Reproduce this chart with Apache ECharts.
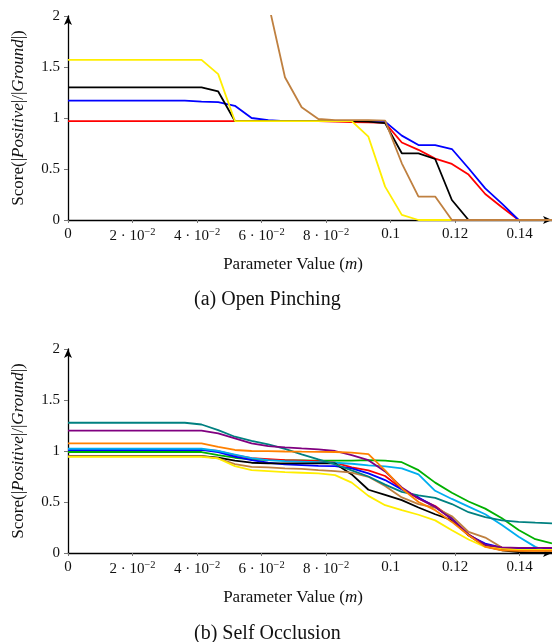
<!DOCTYPE html>
<html>
<head>
<meta charset="utf-8">
<script src="https://cdn.jsdelivr.net/npm/echarts@6/dist/echarts.min.js"></script>
<style>html,body{margin:0;padding:0;background:#fff}#c{width:552px;height:642px}</style>
</head>
<body>
<div id="c"></div>
<script>
// x sample positions (m)
var xs = [0, 0.00517, 0.01034, 0.01552, 0.02069, 0.02586, 0.03103, 0.03621, 0.04138, 0.04655,
  0.05172, 0.05690, 0.06207, 0.06724, 0.07241, 0.07759, 0.08276, 0.08793, 0.09310, 0.09828,
  0.10345, 0.10862, 0.11379, 0.11897, 0.12414, 0.12931, 0.13448, 0.13966, 0.14483, 0.15];

var xTickValues = [0, 0.02, 0.04, 0.06, 0.08, 0.1, 0.12, 0.14];
var xTickLabels = ['0', '2 · 10{sup|−2}', '4 · 10{sup|−2}', '6 · 10{sup|−2}', '8 · 10{sup|−2}', '0.1', '0.12', '0.14'];
var yTickValues = [0, 0.5, 1, 1.5, 2];
var yTickLabels = ['0', '0.5', '1', '1.5', '2'];

// (a) Open Pinching
var aRed = [0.97,0.97,0.97,0.97,0.97,0.97,0.97,0.97,0.97,0.97,0.97,0.97,0.97,0.97,0.97,0.97,0.965,0.96,0.958,0.952,0.76,0.688,0.602,0.55,0.445,0.255,0.125,0,0,0];
var aBlue = [1.17,1.17,1.17,1.17,1.17,1.17,1.17,1.17,1.16,1.155,1.12,1.0,0.98,0.97,0.97,0.97,0.97,0.97,0.97,0.965,0.827,0.735,0.735,0.696,0.507,0.31,0.16,0,0,0];
var aBlack = [1.30,1.30,1.30,1.30,1.30,1.30,1.30,1.30,1.30,1.26,0.97,0.97,0.97,0.97,0.97,0.97,0.97,0.97,0.965,0.95,0.654,0.654,0.598,0.196,0,0,0,0,0,0];
var aYellow = [1.57,1.57,1.57,1.57,1.57,1.57,1.57,1.57,1.57,1.43,0.97,0.97,0.97,0.97,0.97,0.97,0.97,0.97,0.817,0.327,0.05,0,0,0,0,0,0,0,0,0];
var aBrown = [null,null,null,null,null,null,null,null,null,null,null,null,2.13,1.40,1.105,0.99,0.98,0.98,0.98,0.975,0.556,0.23,0.23,0,0,0,0,0,0,0];

// (b) Self Occlusion
var bBlue = [1.01,1.01,1.01,1.01,1.01,1.01,1.01,1.01,1.01,0.99,0.944,0.91,0.885,0.868,0.862,0.855,0.852,0.83,0.78,0.715,0.623,0.545,0.452,0.338,0.174,0.092,0.053,0.04,0.04,0.04];
var bRed = [1.015,1.015,1.015,1.015,1.015,1.015,1.015,1.015,1.015,1.0,0.96,0.93,0.92,0.91,0.905,0.90,0.885,0.84,0.81,0.755,0.63,0.535,0.46,0.34,0.18,0.08,0.04,0.03,0.03,0.03];
var bBlack = [0.95,0.95,0.95,0.95,0.95,0.95,0.95,0.95,0.95,0.934,0.905,0.885,0.878,0.878,0.878,0.878,0.878,0.77,0.62,0.57,0.518,0.446,0.38,0.322,0.174,0.066,0.027,0.01,0,0];
var bYellow = [0.943,0.943,0.943,0.943,0.943,0.943,0.943,0.943,0.943,0.927,0.852,0.813,0.803,0.793,0.787,0.78,0.764,0.69,0.56,0.469,0.42,0.375,0.32,0.223,0.132,0.06,0.043,0.03,0.03,0.03];
var bBrown = [0.95,0.95,0.95,0.95,0.95,0.95,0.95,0.95,0.95,0.927,0.872,0.845,0.839,0.83,0.825,0.813,0.803,0.787,0.747,0.656,0.545,0.48,0.446,0.36,0.207,0.151,0.053,0.027,0.02,0.02];
var bTeal = [1.277,1.277,1.277,1.277,1.277,1.277,1.277,1.277,1.26,1.205,1.14,1.10,1.065,1.02,0.967,0.917,0.868,0.81,0.75,0.67,0.60,0.565,0.54,0.48,0.40,0.352,0.32,0.305,0.297,0.29];
var bPurple = [1.20,1.20,1.20,1.20,1.20,1.20,1.20,1.20,1.20,1.173,1.124,1.075,1.048,1.035,1.025,1.016,1.0,0.96,0.91,0.8,0.643,0.535,0.452,0.33,0.18,0.08,0.055,0.05,0.05,0.05];
var bOrange = [1.075,1.075,1.075,1.075,1.075,1.075,1.075,1.075,1.075,1.04,1.01,1.0,0.998,0.995,0.993,0.992,0.99,0.985,0.97,0.81,0.633,0.50,0.42,0.305,0.174,0.06,0.027,0.02,0.02,0.02];
var bGreen = [0.99,0.99,0.99,0.99,0.99,0.99,0.99,0.99,0.99,0.96,0.934,0.917,0.91,0.908,0.907,0.906,0.906,0.906,0.91,0.905,0.89,0.812,0.69,0.59,0.505,0.435,0.34,0.225,0.135,0.095];
var bCyan = [1.022,1.022,1.022,1.022,1.022,1.022,1.022,1.022,1.022,1.0,0.965,0.93,0.91,0.90,0.895,0.89,0.885,0.875,0.86,0.85,0.83,0.77,0.61,0.53,0.455,0.38,0.275,0.16,0.06,0];

var FONT = 'Liberation Serif';

function pairs(ys) {
  var out = [];
  for (var i = 0; i < xs.length; i++) { if (ys[i] !== null) out.push([xs[i], ys[i]]); }
  return out;
}
function line(name, ys, color, gi) {
  return { name: name, type: 'line', xAxisIndex: gi, yAxisIndex: gi, data: pairs(ys),
    showSymbol: false, symbol: 'none', clip: true, animation: false,
    lineStyle: { color: color, width: 1.8 }, z: 3 };
}
function xAxisDef(gi) {
  return {
    gridIndex: gi, type: 'value', min: 0, max: 0.15,
    name: 'Parameter Value ({i|m})', nameLocation: 'middle', nameGap: 36,
    nameTextStyle: { fontFamily: FONT, fontSize: 17, color: '#111', padding: [0, 34, 0, 0],
      rich: { i: { fontFamily: FONT, fontStyle: 'italic', fontSize: 17, color: '#111' } } },
    axisLine: { show: true, lineStyle: { color: '#000', width: 1.3 }, symbol: ['none', 'arrow'], symbolSize: [6, 9] },
    axisTick: { show: true, length: 3, lineStyle: { color: '#777' }, customValues: xTickValues },
    axisLabel: { customValues: xTickValues, margin: 7, fontFamily: FONT, fontSize: 15, color: '#111',
      formatter: function (v) { var i = xTickValues.indexOf(Math.round(v * 1000) / 1000); return i >= 0 ? xTickLabels[i] : ''; },
      rich: { sup: { fontFamily: FONT, fontSize: 10.5, color: '#111', padding: [0, 0, 7, 0] } } },
    splitLine: { show: false }
  };
}
function yAxisDef(gi) {
  return {
    gridIndex: gi, type: 'value', min: 0, max: 2, interval: 0.5,
    name: '{r|Score(|}{i|Positive}{r||/|}{i|Ground}{r||)}', nameLocation: 'middle', nameRotate: 90, nameGap: 41,
    nameTextStyle: { rich: {
      r: { fontFamily: FONT, fontSize: 17, color: '#111' },
      i: { fontFamily: FONT, fontSize: 17, fontStyle: 'italic', color: '#111' } } },
    axisLine: { show: true, lineStyle: { color: '#000', width: 1.3 }, symbol: ['none', 'arrow'], symbolSize: [6, 9] },
    axisTick: { show: true, length: 4, lineStyle: { color: '#777' } },
    axisLabel: { margin: 8, fontFamily: FONT, fontSize: 15, color: '#111',
      formatter: function (v) { var i = yTickValues.indexOf(v); return i >= 0 ? yTickLabels[i] : ''; } },
    splitLine: { show: false }
  };
}

var chart = echarts.init(document.getElementById('c'), null, { renderer: 'canvas' });
chart.setOption({
  animation: false,
  backgroundColor: '#fff',
  title: [
    { text: '(a) Open Pinching', left: 189, top: 285, textStyle: { fontFamily: FONT, fontSize: 20, fontWeight: 'normal', color: '#111' } },
    { text: '(b) Self Occlusion', left: 189, top: 619, textStyle: { fontFamily: FONT, fontSize: 20, fontWeight: 'normal', color: '#111' } }
  ],
  grid: [
    { left: 68, right: 0, top: 16, height: 204, containLabel: false },
    { left: 68, right: 0, top: 349, height: 204, containLabel: false }
  ],
  xAxis: [xAxisDef(0), xAxisDef(1)],
  yAxis: [yAxisDef(0), yAxisDef(1)],
  series: [
    line('a-red', aRed, '#ff0000', 0),
    line('a-blue', aBlue, '#0000ff', 0),
    line('a-black', aBlack, '#000000', 0),
    line('a-yellow', aYellow, '#ffee00', 0),
    line('a-brown', aBrown, '#bf8040', 0),
    line('b-green', bGreen, '#00b000', 1),
    line('b-red', bRed, '#ff0000', 1),
    line('b-blue', bBlue, '#0000ff', 1),
    line('b-cyan', bCyan, '#00aeef', 1),
    line('b-black', bBlack, '#000000', 1),
    line('b-brown', bBrown, '#bf8040', 1),
    line('b-yellow', bYellow, '#ffee00', 1),
    line('b-teal', bTeal, '#008080', 1),
    line('b-purple', bPurple, '#800080', 1),
    line('b-orange', bOrange, '#ff8000', 1)
  ]
});
</script>
</body>
</html>
